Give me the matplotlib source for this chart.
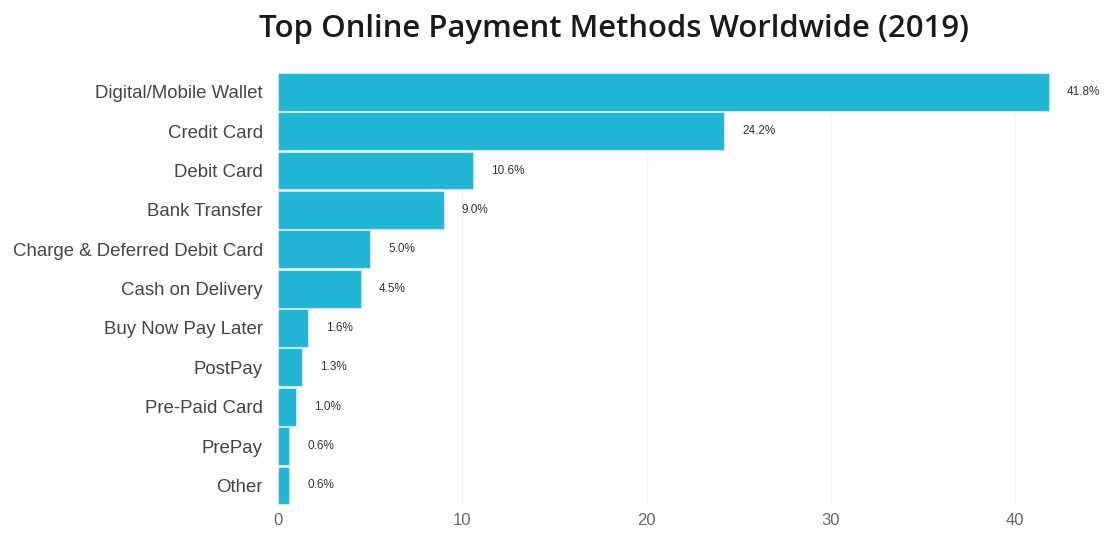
import matplotlib.pyplot as plt

methods = ["Digital/Mobile Wallet", "Credit Card", "Debit Card", "Bank Transfer",
           "Charge & Deferred Debit Card", "Cash on Delivery", "Buy Now Pay Later",
           "PostPay", "Pre-Paid Card", "PrePay", "Other"]
shares = [41.8, 24.2, 10.6, 9.0, 5.0, 4.5, 1.6, 1.3, 1.0, 0.6, 0.6]
x_ticks = [0, 10, 20, 30, 40]

BAR_COLOR = "#22b5d6"

fig = plt.figure(figsize=(11.09, 5.34), dpi=100)
fig.patch.set_facecolor("white")
ax = fig.add_axes([0.2507, 0.054, 0.733, 0.811])

pos = range(len(methods))
ax.barh(pos, shares, height=0.96, color=BAR_COLOR, edgecolor="#bfeaf5",
        linewidth=0.8, zorder=2)

for y, v in zip(pos, shares):
    ax.annotate(f"{v:.1f}%", (v, y), xytext=(13, 0), textcoords="offset points",
                ha="left", va="center", fontsize=8.5, color="#333333",
                family="Liberation Sans", annotation_clip=False)

ax.set_ylim(len(methods) - 0.5, -0.5)
ax.set_xlim(0, 44.1)
ax.set_yticks(list(pos))
ax.set_yticklabels(methods, fontsize=13.4, color="#444444", family="Liberation Sans")
ax.set_xticks(x_ticks)
ax.set_xticklabels([str(t) for t in x_ticks], fontsize=12, color="#666666",
                   family="Liberation Sans")
ax.tick_params(axis="both", length=0)
ax.tick_params(axis="y", pad=11)
ax.tick_params(axis="x", pad=6)

ax.grid(axis="x", color="#f3f3f3", linewidth=1, zorder=0)
for s in ax.spines.values():
    s.set_visible(False)

fig.text(0.5537, 0.945, "Top Online Payment Methods Worldwide (2019)",
         ha="center", va="center", fontsize=22.4, fontweight="semibold",
         family="Open Sans", color="#1a1a1a")

fig.savefig("out.png", dpi=100)
